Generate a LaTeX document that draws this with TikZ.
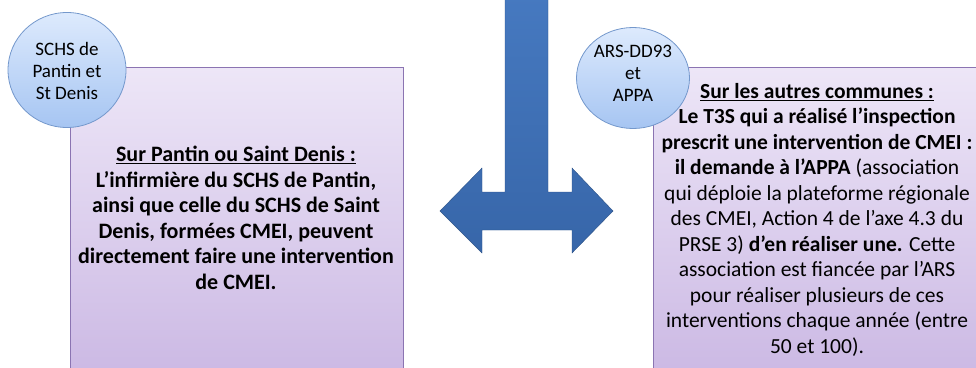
\documentclass[tikz,border=0pt]{standalone}
\usepackage{fontspec}
\setmainfont{Carlito}
\usetikzlibrary{shapes.geometric}
\definecolor{boxtop}{HTML}{EDE6F7}
\definecolor{boxbot}{HTML}{C8B4E2}
\definecolor{boxline}{HTML}{8B74B2}
\definecolor{circtop}{HTML}{DDEAFD}
\definecolor{circbot}{HTML}{A6C5F2}
\definecolor{circline}{HTML}{7498CC}
\definecolor{arrtop}{HTML}{4679C0}
\definecolor{arrbot}{HTML}{3766A9}
\tikzset{
  infobox/.style={draw=boxline, line width=1pt, top color=boxtop, bottom color=boxbot, inner sep=0pt, anchor=north west},
  actor/.style={ellipse, draw=circline, line width=0.8pt, top color=circtop, bottom color=circbot, inner sep=0pt},
  actortext/.style={align=center, inner sep=0pt, font=\fontsize{19}{22}\selectfont},
  boxtext/.style={align=center, inner sep=0pt, font=\fontsize{22}{25.5}\selectfont, anchor=north},
}
\begin{document}
\begin{tikzpicture}[x=1pt,y=-1pt]
\useasboundingbox (0,0) rectangle (976,367);
% boxes
\node[infobox, minimum width=333pt, minimum height=340pt] (lbox) at (70,67) {};
\node[infobox, minimum width=340pt, minimum height=340pt] (rbox) at (653,67) {};
% arrow
\path[top color=arrtop, bottom color=arrbot, draw=arrbot!80!black, line width=0.4pt]
  (505,-5) -- (548,-5) -- (548,192) -- (572,192) -- (572,168) -- (613,211)
  -- (572,253) -- (572,230) -- (482,230) -- (482,253) -- (440,211)
  -- (482,168) -- (482,192) -- (505,192) -- cycle;
% circles
\node[actor, minimum width=118pt, minimum height=115pt] (lc) at (67,70) {};
\node[actortext] (lct) at (67,71) {SCHS de\\Pantin et\\St Denis};
\node[actor, minimum width=113pt, minimum height=101pt] (rc) at (633,78) {};
\node[actortext] (rct) at (633,73) {ARS-DD93\\et\\APPA};
% texts
\node[boxtext, font=\bfseries\fontsize{22}{25.5}\selectfont] (ltext) at (236,146) {\underline{Sur Pantin ou Saint Denis :}\\
L’infirmière du SCHS de Pantin,\\
ainsi que celle du SCHS de Saint\\
Denis, formées CMEI, peuvent\\
directement faire une intervention\\
de CMEI.};
\node[boxtext, font=\fontsize{21.5}{25.5}\selectfont] (rtext) at (817,83) {\textbf{\underline{Sur les autres communes :}}\\
\textbf{Le T3S qui a réalisé l’inspection}\\
\textbf{prescrit une intervention de CMEI :}\\
\textbf{il demande à l’APPA} (association\\
qui déploie la plateforme régionale\\
des CMEI, Action 4 de l’axe 4.3 du\\
PRSE 3) \textbf{d’en réaliser une.} Cette\\
association est fiancée par l’ARS\\
pour réaliser plusieurs de ces\\
interventions chaque année (entre\\
50 et 100).};
\end{tikzpicture}
\end{document}
